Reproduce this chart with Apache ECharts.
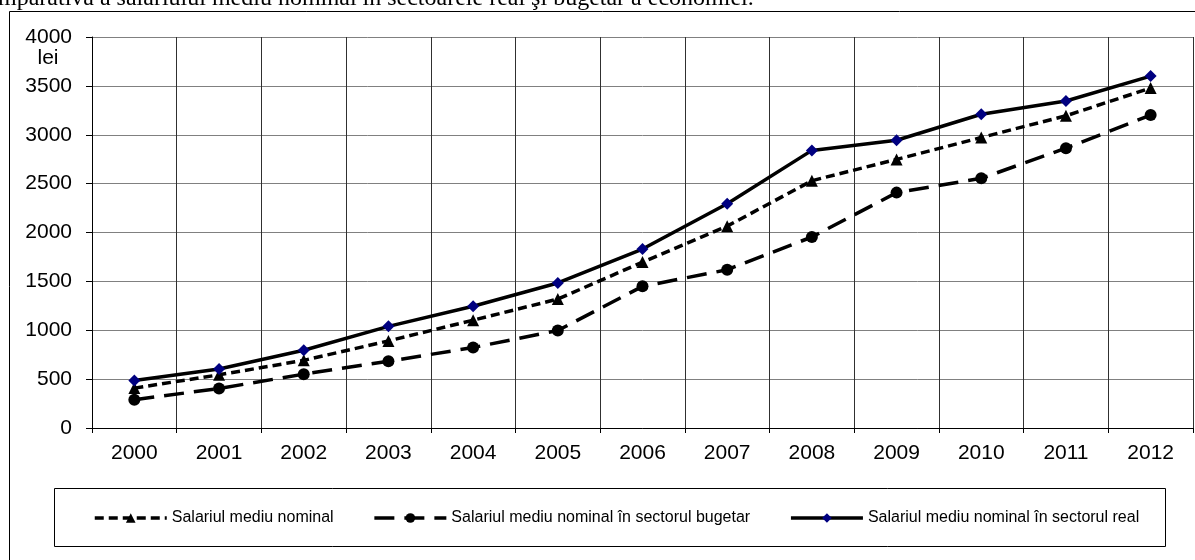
<!DOCTYPE html>
<html>
<head>
<meta charset="utf-8">
<script src="https://cdn.jsdelivr.net/npm/echarts@6/dist/echarts.min.js"></script>
<style>
html,body{margin:0;padding:0;background:#fff;}
#c{width:1195px;height:560px;}
</style>
</head>
<body>
<div id="c"></div>
<script>
const years = ['2000','2001','2002','2003','2004','2005','2006','2007','2008','2009','2010','2011','2012'];
const nominal = [408, 544, 692, 891, 1103, 1319, 1697, 2065, 2530, 2748, 2972, 3194, 3478];
const budget = [290, 404, 551, 683, 823, 998, 1449, 1619, 1954, 2408, 2554, 2863, 3201];
const real = [485, 604, 795, 1040, 1245, 1484, 1831, 2294, 2840, 2944, 3210, 3345, 3600];
const seriesNames = ['Salariul mediu nominal', 'Salariul mediu nominal în sectorul bugetar', 'Salariul mediu nominal în sectorul real'];
const titleText = 'mparativă a salariului mediu nominal în sectoarele real şi bugetar a economiei.';

const chart = echarts.init(document.getElementById('c'));
chart.setOption({
  animation: false,
  backgroundColor: '#fff',
  textStyle: { fontFamily: 'Liberation Sans, Arial, sans-serif' },
  graphic: [
    { type: 'rect', shape: { x: 9.5, y: 11.5, width: 1200, height: 560 }, style: { fill: 'none', stroke: '#000', lineWidth: 1 }, z: -1 },
    { type: 'rect', shape: { x: 54.5, y: 488.5, width: 1111, height: 58 }, style: { fill: 'none', stroke: '#000', lineWidth: 1 } },
    { type: 'text', x: -2, y: -1, style: { text: titleText, font: '24px "Liberation Serif", "Times New Roman", serif', fill: '#000', verticalAlign: 'middle' } },
    { type: 'text', x: 48, y: 58, style: { text: 'lei', font: '21px "Liberation Sans", Arial, sans-serif', fill: '#000', align: 'center', verticalAlign: 'middle' } }
  ],
  grid: { left: 92, right: 2, top: 37, bottom: 132, containLabel: false },
  legend: {
    left: 93, top: 510, padding: 0,
    itemWidth: 72, itemHeight: 12, itemGap: 39,
    lineStyle: { width: 3.5 },
    textStyle: { fontSize: 16, color: '#000', fontFamily: 'Liberation Sans, Arial, sans-serif' },
    data: seriesNames
  },
  xAxis: {
    type: 'category', data: years, boundaryGap: true,
    axisLine: { lineStyle: { color: '#000', width: 1 } },
    axisTick: { show: true, length: 5, lineStyle: { color: '#000' } },
    axisLabel: { fontSize: 21, color: '#000', margin: 15 },
    splitLine: { show: true, lineStyle: { color: '#303030', width: 1 } }
  },
  yAxis: {
    type: 'value', min: 0, max: 4000, interval: 500,
    axisLine: { show: true, lineStyle: { color: '#000', width: 1 } },
    axisTick: { show: true, length: 6, lineStyle: { color: '#000' } },
    axisLabel: { fontSize: 21, color: '#000', margin: 20, formatter: function (v) { return String(v); } },
    splitLine: { show: true, lineStyle: { color: '#808080', width: 1 } }
  },
  series: [
    {
      name: seriesNames[0], type: 'line', data: nominal,
      symbol: 'triangle', symbolSize: 12,
      lineStyle: { color: '#000', width: 3.5, type: [9, 5] },
      itemStyle: { color: '#000' }, z: 3
    },
    {
      name: seriesNames[1], type: 'line', data: budget,
      symbol: 'circle', symbolSize: 12,
      lineStyle: { color: '#000', width: 3.5, type: [20, 10] },
      itemStyle: { color: '#000' }, z: 2
    },
    {
      name: seriesNames[2], type: 'line', data: real,
      symbol: 'diamond', symbolSize: 12,
      lineStyle: { color: '#000', width: 3.5, type: 'solid' },
      itemStyle: { color: '#000080' }, z: 4
    }
  ]
});
</script>
</body>
</html>
